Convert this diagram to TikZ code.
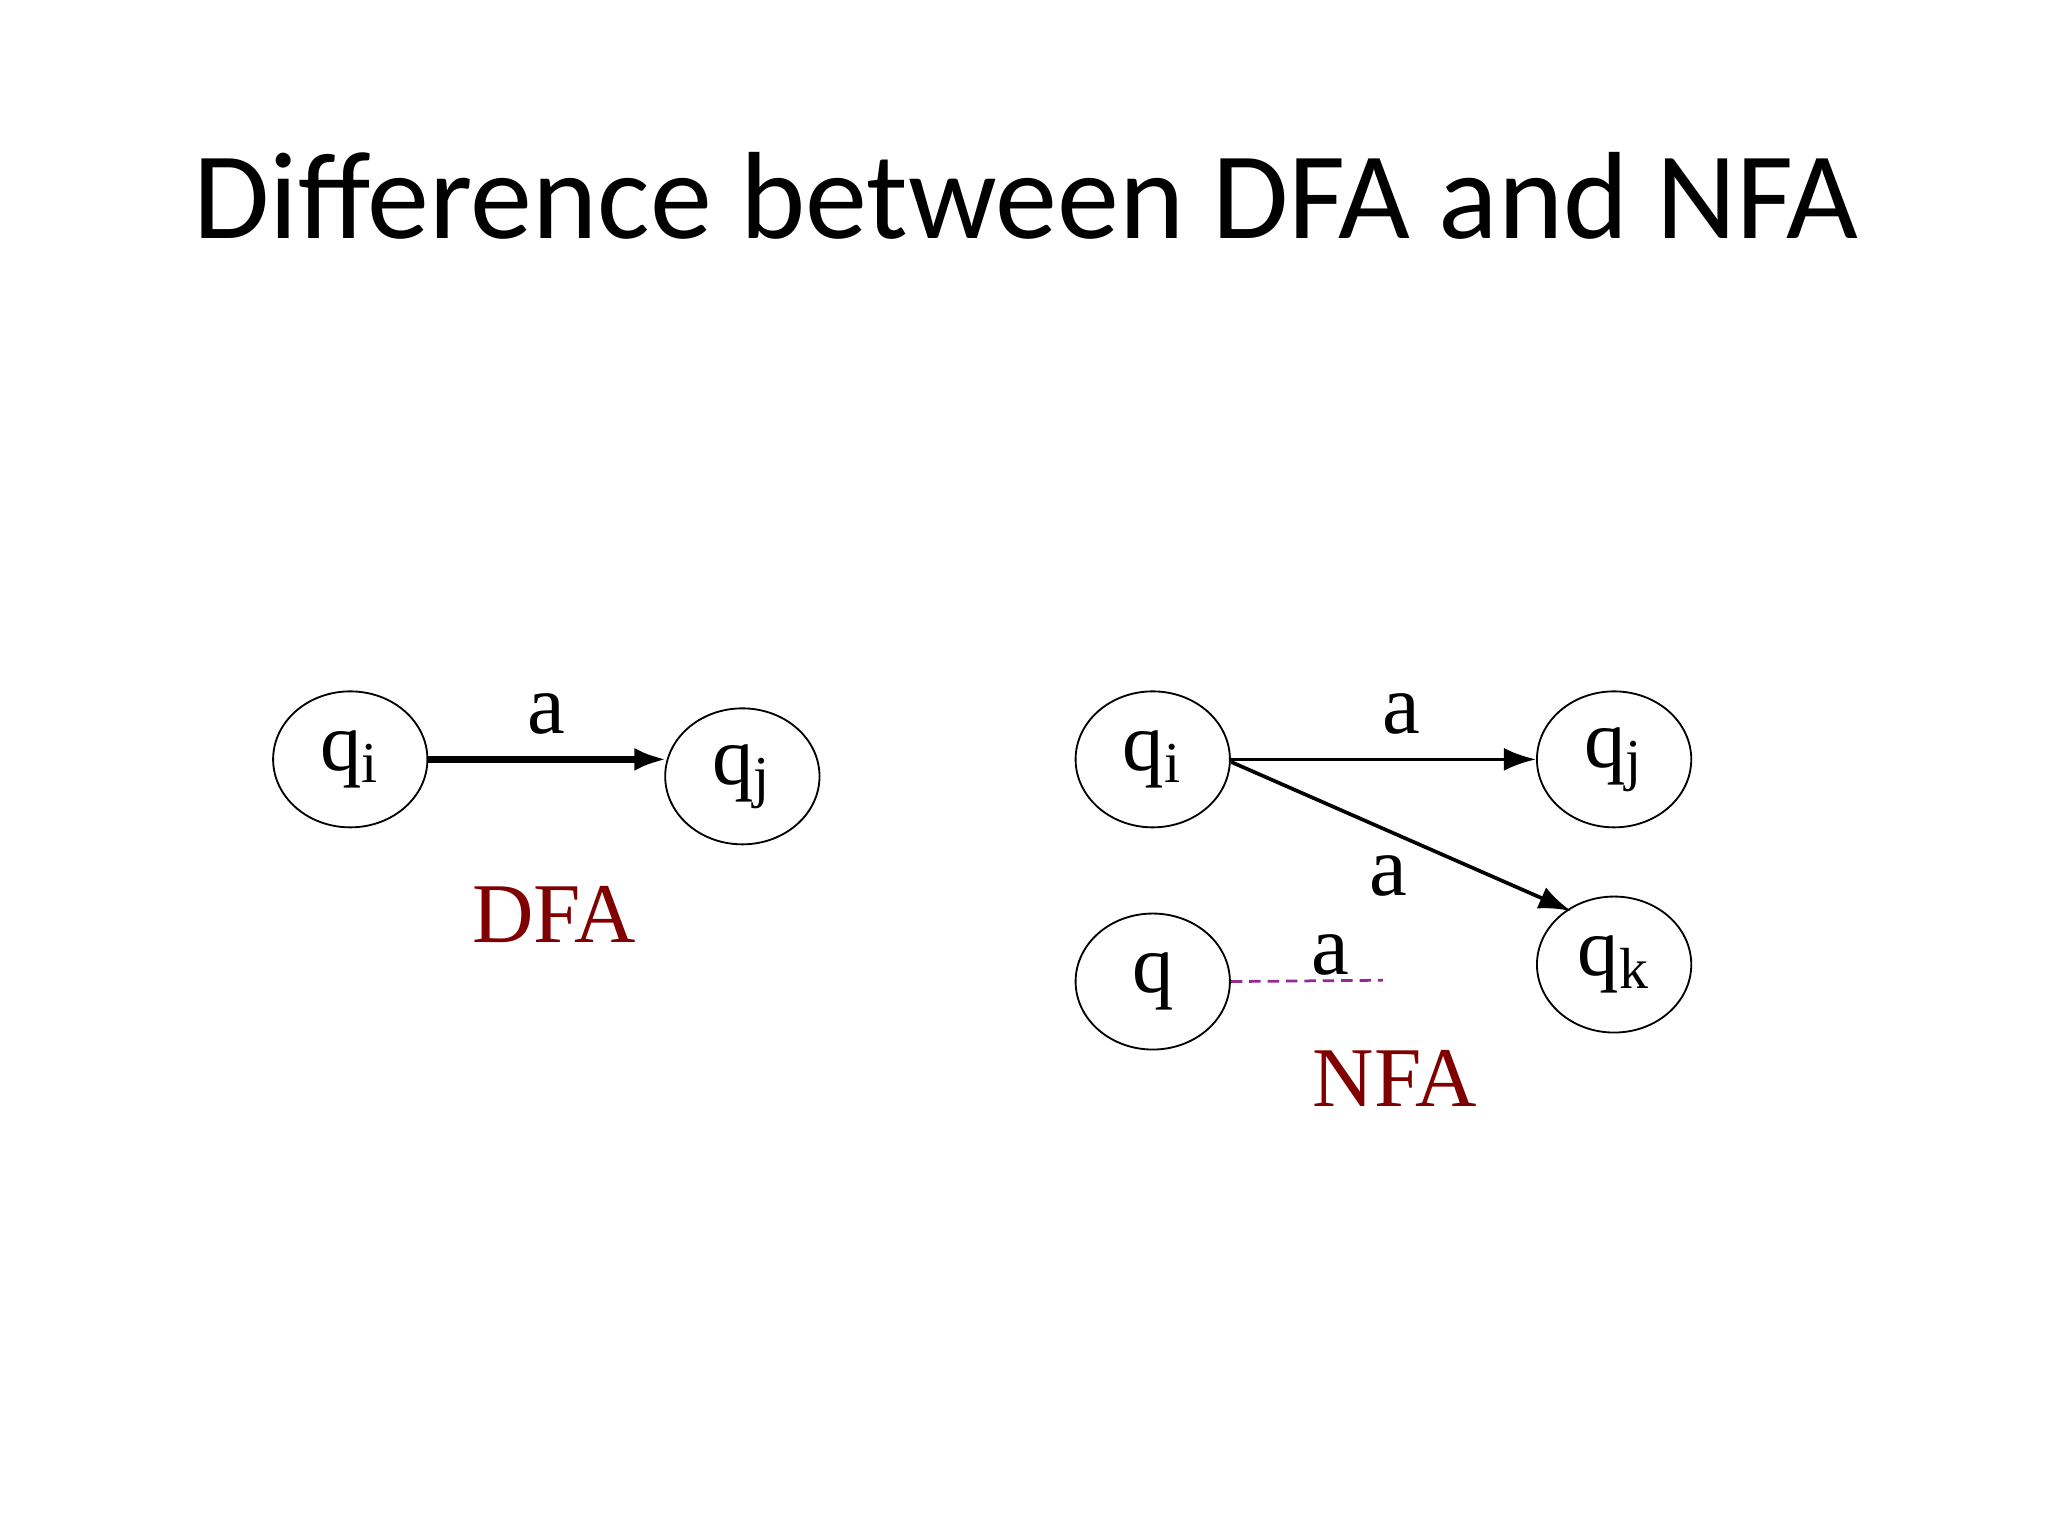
\documentclass[tikz,border=0pt]{standalone}
\usepackage{fontspec}
\setmainfont{Liberation Serif}
\newfontfamily\titlefont{Carlito}
\usetikzlibrary{shapes.geometric,arrows.meta}
\definecolor{dred}{RGB}{128,0,0}
\definecolor{dpurple}{RGB}{150,40,150}
\begin{document}
\begin{tikzpicture}[x=0.01cm,y=-0.01cm,
  state/.style={draw,ellipse,minimum width=1.18cm,minimum height=1.04cm,inner sep=0pt,font=\fontsize{18}{22}\selectfont},
  lbl/.style={font=\fontsize{18.5}{22}\selectfont},
  captext/.style={text=dred,font=\fontsize{18.5}{22}\selectfont}]
\useasboundingbox (0,0) rectangle (1567,1175);
\node[font=\titlefont\fontsize{27}{32}\selectfont] (title) at (785,150) {Difference between DFA and NFA};
% DFA
\node[state] (d1) at (268,581) {q\textsubscript{i}};
\node[state] (d2) at (568,594) {q\textsubscript{j}};
\draw[line width=1.6pt,-{Latex[length=7pt,width=5pt]}] (d1.east) -- (510,581) coordinate (dend);
\node[lbl] (da) at (418,546) {a};
\node[captext] (dfa) at (424,700) {DFA};
% NFA
\node[state] (n1) at (882,581) {q\textsubscript{i}};
\node[state] (n2) at (1235,581) {q\textsubscript{j}};
\node[state] (n3) at (1235,738) {q\textsubscript{k}};
\node[state] (n4) at (882,751) {q};
\draw[line width=0.8pt,-{Latex[length=7pt,width=5pt]}] (n1.east) -- (n2.west);
\draw[line width=0.8pt,-{Latex[length=7pt,width=5pt]}] (942,583) -- (1202,697);
\node[lbl] (na1) at (1072,546) {a};
\node[lbl] (na2) at (1062,670) {a};
\node[lbl] (na3) at (1018,731) {a};
\coordinate (qend) at (1058,750);
\draw[dpurple,dash pattern=on 2.5pt off 1.5pt,line width=0.6pt] (n4.east) -- (qend);
\node[captext] (nfa) at (1067,825) {NFA};
\end{tikzpicture}
\end{document}
